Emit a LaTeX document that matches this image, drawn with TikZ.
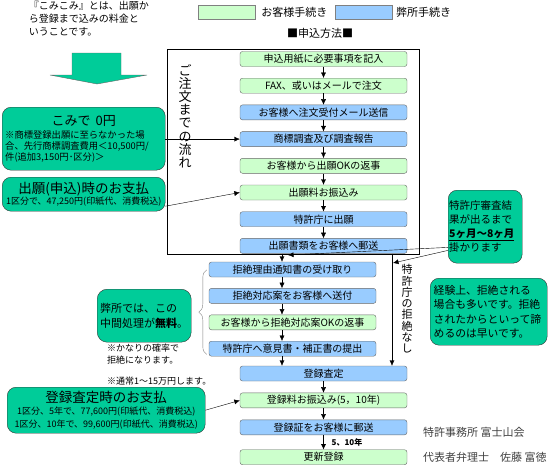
\documentclass[tikz,border=0pt]{standalone}
\usepackage{fontspec}
\setmainfont{Noto Sans CJK JP}
\usetikzlibrary{arrows.meta, positioning, decorations.pathreplacing}

\definecolor{custgreen}{HTML}{CCFFCC}
\definecolor{officeblue}{HTML}{99CCFF}
\definecolor{notegreen}{HTML}{00CC99}

\tikzset{
  custbox/.style={rectangle, rounded corners=2.5pt, draw=gray!80!black, fill=custgreen, minimum width=167pt, minimum height=15pt, inner sep=0pt, font=\fontsize{10}{12}\selectfont},
  officebox/.style={custbox, fill=officeblue},
  callout/.style={rectangle, rounded corners=9pt, draw=black!80, fill=notegreen, inner sep=3pt},
  swatch/.style={rectangle, draw=gray, minimum width=57pt, minimum height=14pt, inner sep=0pt},
  plain/.style={inner sep=0pt, font=\fontsize{11}{13}\selectfont},
}

\begin{document}
\begin{tikzpicture}[x=1pt, y=-1pt, >={Latex[length=5.5pt, width=5pt]}]
\useasboundingbox (0,0) rectangle (550,466);

% legend and heading
\node [swatch, fill=custgreen] (legcust) at (226.5,12) {};
\node [plain, right=6pt of legcust] (legcusttext) {お客様手続き};
\node [swatch, fill=officeblue, right=7pt of legcusttext] (legoffice) {};
\node [plain, right=4pt of legoffice] (legofficetext) {弊所手続き};
\node [plain] (title) at (320,33) {■申込方法■};

% intro text and big arrow
\node [plain, anchor=north east, align=left, font=\fontsize{10}{13}\selectfont] (intro) at (149,1) {『こみこみ』とは、出願か\\ら登録まで込みの料金と\\いうことです。};
\filldraw [fill=notegreen, draw=black!60] (72,53) -- (121,53) -- (121,75) -- (147,75) -- (97,84) -- (50,75) -- (72,75) -- cycle;

% order frame
\draw (167,49) rectangle (419,254);
\node [plain, align=center, font=\fontsize{13}{13.2}\selectfont] (frametext) at (185,116) {ご\\注\\文\\ま\\で\\の\\流\\れ};

% main flow
\node [custbox] (form) at (323.5,59) {申込用紙に必要事項を記入};
\node [custbox, below=11.3pt of form] (order) {FAX、或いはメールで注文};
\node [officebox, below=11.3pt of order] (ack) {お客様へ注文受付メール送信};
\node [officebox, below=11.3pt of ack] (search) {商標調査及び調査報告};
\node [custbox, below=11.3pt of search] (okfile) {お客様から出願OKの返事};
\node [custbox, below=11.3pt of okfile] (feepay) {出願料お振込み};
\node [officebox, below=11.3pt of feepay] (filing) {特許庁に出願};
\node [officebox, below=11.3pt of filing] (docmail) {出願書類をお客様へ郵送};
\draw[->] (form) -- (order);
\draw[->] (order) -- (ack);
\draw[->] (ack) -- (search);
\draw[->] (search) -- (okfile);
\draw[->] (okfile) -- (feepay);
\draw[->] (feepay) -- (filing);
\draw[->] (filing) -- (docmail);

% rejection handling
\node [officebox] (rej1) at (292.5,269.5) {拒絶理由通知書の受け取り};
\node [officebox, below=11pt of rej1] (rej2) {拒絶対応案をお客様へ送付};
\node [custbox, below=11pt of rej2] (rej3) {お客様から拒絶対応案OKの返事};
\node [officebox, below=11pt of rej3] (rej4) {特許庁へ意見書・補正書の提出};
\draw [gray, decorate, decoration={brace, amplitude=8pt}] ([xshift=-2pt, yshift=2pt]rej4.south west) -- ([xshift=-2pt, yshift=-8pt]rej1.north west);

% registration
\node [officebox] (reg) at (323.5,373.5) {登録査定};
\node [custbox, below=11.5pt of reg] (regpay) {登録料お振込み(5，10年)};
\node [officebox, below=11.5pt of regpay] (certmail) {登録証をお客様に郵送};
\node [custbox, below=14.5pt of certmail] (renew) {更新登録};
\draw[->] (reg) -- (regpay);
\draw[->] (regpay) -- (certmail);
\draw[->] (certmail) -- (renew) node [midway, right=8pt, inner sep=0pt, font=\bfseries\fontsize{8}{10}\selectfont] {5、10年};

\coordinate (rejline) at (282,0);
\draw[->] (docmail.south -| rejline) -- (rej1.north -| rejline);
\draw[->] (rej1.south -| rejline) -- (rej2.north -| rejline);
\draw[->] (rej2.south -| rejline) -- (rej3.north -| rejline);
\draw[->] (rej3.south -| rejline) -- (rej4.north -| rejline);
\draw[->] (rej4.south -| rejline) -- (reg.north -| rejline);

\coordinate (norej) at (392,0);
\draw[->] (docmail.south -| norej) -- (reg.north -| norej);
\node [plain, align=center, font=\fontsize{11}{11.3}\selectfont] (norejtext) at (407,309) {特\\許\\庁\\の\\拒\\絶\\な\\し};

% callouts
\node [callout, anchor=north west, text width=157pt, minimum height=63pt, align=left, font=\fontsize{9.3}{10.8}\selectfont] (komi) at (2,107)
  {\makebox[157pt]{\fontsize{13}{16}\selectfont こみで\hspace{5pt}0円}\\[3pt]※商標登録出願に至らなかった場\\合、先行商標調査費用＜10,500円/\\件(追加3,150円･区分)＞};
\node [callout, anchor=north west, inner sep=2pt, minimum width=163pt, minimum height=34pt, align=center, font=\fontsize{9}{11}\selectfont] (paydue) at (2,177)
  {{\fontsize{13.5}{16}\selectfont 出願(申込)時のお支払}\\1区分で、47,250円(印紙代、消費税込)};
\node [callout, anchor=north west, minimum width=198pt, minimum height=46pt, align=center, font=\fontsize{9}{12.5}\selectfont] (regfee) at (7,387)
  {{\fontsize{13.5}{16}\selectfont 登録査定時のお支払}\\1区分、5年で、77,600円(印紙代、消費税込)\\1区分、10年で、99,600円(印紙代、消費税込)};
\node [callout, rounded corners=10pt, anchor=north west, minimum width=93pt, minimum height=53pt, align=left, font=\fontsize{11}{15.5}\selectfont] (free) at (97,289)
  {弊所では、この\\中間処理が\textbf{無料}。};
\node [callout, anchor=north west, inner sep=1pt, text width=72pt, minimum height=73pt, align=left, font=\fontsize{10.5}{14}\selectfont] (exam) at (448,190)
  {特許庁審査結\\果が出るまで\\\underline{\textbf{5ヶ月〜8ヶ月}}\\掛かります};
\node [callout, anchor=north west, inner sep=3.5pt, text width=110pt, minimum height=67pt, align=left, font=\fontsize{10.8}{14.5}\selectfont] (advice) at (430,278)
  {経験上、拒絶される\\場合も多いです。拒絶\\されたからといって諦\\めるのは早いです。};

\draw[->] (komi.east |- search.west) -- (search.west);
\draw[->] ([yshift=-12pt]paydue.east) -- (feepay.west);
\draw[->] (regfee.east) -- (regpay.west);
\coordinate (waitA) at (288,255);
\coordinate (waitB) at (393,263);
\draw[->] ([yshift=16pt]exam.south west) -- (waitA);
\draw[->] ([yshift=13pt]exam.south west) -- (waitB);

% notes and footer
\node [plain, anchor=north west, align=left, font=\fontsize{9}{12}\selectfont] (note1) at (107,344) {※かなりの確率で\\拒絶になります。};
\node [plain, anchor=west, font=\fontsize{9}{12}\selectfont] (note2) at (107,381) {※通常1〜15万円します。};
\node [plain, anchor=west, text=black!75] (office) at (423,432) {特許事務所 富士山会};
\node [plain, anchor=west, text=black!75] (attorney) at (423,457) {代表者弁理士　佐藤 富徳};
\end{tikzpicture}
\end{document}
